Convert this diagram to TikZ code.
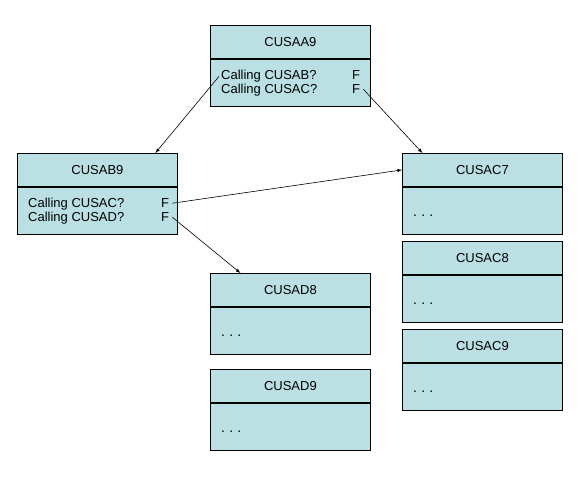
\documentclass[tikz,border=0pt]{standalone}
\usepackage{fontspec}
\setmainfont{Liberation Sans}
\usetikzlibrary{shapes,arrows,positioning,calc}
\definecolor{cusfill}{RGB}{187,224,227}
\newcommand{\cusfont}{\fontsize{13}{15}\selectfont}

\begin{document}
\begin{tikzpicture}[x=1pt, y=-1pt,
    hdrbox/.style={draw, fill=cusfill, line width=0.8pt, minimum width=160pt,
        minimum height=33pt, inner sep=0pt, font=\cusfont},
    bodybox/.style={draw, fill=cusfill, line width=0.8pt, minimum width=160pt,
        minimum height=47pt, inner sep=0pt},
    calltxt/.style={anchor=base west, inner sep=0pt, font=\cusfont},
    flag/.style={anchor=base west, inner sep=0pt, font=\cusfont},
    dots/.style={anchor=west, inner sep=0pt, font=\fontsize{14}{15}\selectfont},
    link/.style={-latex, line width=0.6pt}]
    \useasboundingbox (0,0) rectangle (586,477);

    % Boxes with calls
    \node[hdrbox, anchor=north west] (aa9) at (210,25) {CUSAA9};
    \node[bodybox, anchor=north] (aa9b) at (aa9.south) {};
    \node[calltxt] (aa9c1) at ([xshift=11pt,yshift=3pt]aa9b.west) {Calling CUSAB?};
    \node[calltxt] (aa9c2) at ([xshift=11pt,yshift=-11pt]aa9b.west) {Calling CUSAC?};
    \node[flag] (aa9f1) at (aa9c1.base -| 352,0) {F};
    \node[flag] (aa9f2) at (aa9c2.base -| 352,0) {F};

    \node[hdrbox, anchor=north west] (ab9) at (17,153) {CUSAB9};
    \node[bodybox, anchor=north] (ab9b) at (ab9.south) {};
    \node[calltxt] (ab9c1) at ([xshift=11pt,yshift=3pt]ab9b.west) {Calling CUSAC?};
    \node[calltxt] (ab9c2) at ([xshift=11pt,yshift=-11pt]ab9b.west) {Calling CUSAD?};
    \node[flag] (ab9f1) at (ab9c1.base -| 161,0) {F};
    \node[flag] (ab9f2) at (ab9c2.base -| 161,0) {F};

    % Boxes with no calls
    \foreach \nm/\x/\y in {AC7/402/153, AC8/402/241, AC9/402/329, AD8/210/273, AD9/210/369} {
        \node[hdrbox, anchor=north west] (\nm) at (\x,\y) {CUS\nm};
        \node[bodybox, anchor=north] (\nm b) at (\nm.south) {};
        \node[dots] at ([xshift=11pt,yshift=-5pt]\nm b.west) {.\hspace{4.2pt}.\hspace{4.2pt}.};
    }

    % Calls
    \draw[link] ([xshift=-2pt]aa9c1.west) -- ([xshift=58pt]ab9.north);
    \draw[link] ([xshift=3pt]aa9f2.east) -- ([xshift=-60pt]AC7.north);
    \draw[link] ([xshift=3pt]ab9f1.east) -- (AC7.west);
    \draw[link] ([xshift=3pt]ab9f2.east) -- ([xshift=-50pt]AD8.north);
\end{tikzpicture}
\end{document}
